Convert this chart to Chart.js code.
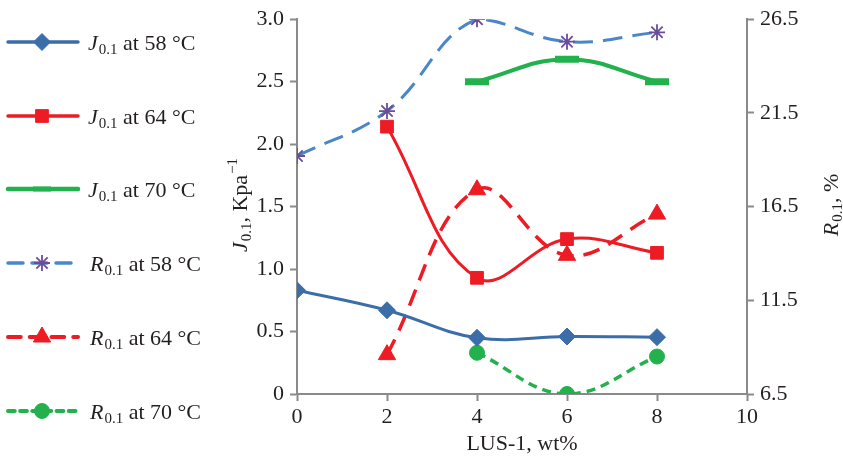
<!DOCTYPE html>
<html>
<head>
<meta charset="utf-8">
<script src="https://cdn.jsdelivr.net/npm/chart.js@4.4.0/dist/chart.umd.min.js"></script>
<style>
  html, body { margin: 0; padding: 0; background: #fff; }
</style>
</head>
<body>
<canvas id="lusChart" width="843" height="462"></canvas>
<script>
// LUS-1 content, wt%
const lusContent = [0, 2, 4, 6, 8];

// J0.1, Kpa^-1 (left axis)
const j58 = [0.83, 0.67, 0.45, 0.46, 0.455];
const j64 = [null, 2.14, 0.93, 1.24, 1.13];
const j70 = [null, null, 2.5, 2.68, 2.5];

// R0.1, % (right axis)
const r58 = [19.2, 21.6, 26.5, 25.3, 25.8];
const r64 = [null, 8.6, 17.4, 13.9, 16.1];
const r70 = [null, null, 8.7, 6.5, 8.5];

const xTicks = [0, 2, 4, 6, 8, 10];
const leftTicks = [0, 0.5, 1.0, 1.5, 2.0, 2.5, 3.0];
const rightTicks = [6.5, 11.5, 16.5, 21.5, 26.5];

const FONT = "'Liberation Serif', 'DejaVu Serif', serif";
const FS = 22;
const TEXT = '#231f20';
const AXIS = '#8a8a8a';

function toPoints(values) {
    const pts = [];
    values.forEach((v, i) => {
        if (v !== null) pts.push({ x: lusContent[i], y: v });
    });
    return pts;
}

const series = [
    { label: ['J', '0.1', ' at 58 °C'], data: j58, axis: 'yL', color: '#3b6ea9', width: 3, dash: [],
      point: 'rectRot', radius: 8.5, pointColor: '#3b6ea9', pbw: 1 },
    { label: ['J', '0.1', ' at 64 °C'], data: j64, axis: 'yL', color: '#ed1c24', width: 3, dash: [],
      point: 'rect', radius: 9, pointColor: '#ed1c24', pbw: 1 },
    { label: ['J', '0.1', ' at 70 °C'], data: j70, axis: 'yL', color: '#22b14c', width: 4, dash: [],
      point: 'line', radius: 12, pointColor: '#22b14c', pbw: 7 },
    { label: ['R', '0.1', ' at 58 °C'], data: r58, axis: 'yR', color: '#4a86c8', width: 3, dash: [20, 10],
      point: 'star', radius: 8, pointColor: '#6a4c9c', pbw: 1.8 },
    { label: ['R', '0.1', ' at 64 °C'], data: r64, axis: 'yR', color: '#ed1c24', width: 3.5, dash: [17, 10],
      point: 'triangle', radius: 10, pointColor: '#ed1c24', pbw: 1 },
    { label: ['R', '0.1', ' at 70 °C'], data: r70, axis: 'yR', color: '#22b14c', width: 3.5, dash: [9, 6],
      point: 'circle', radius: 7.5, pointColor: '#22b14c', pbw: 1 }
];

// draws "J0.1 at 58 °C" style text: italic letter, subscript, rest
function drawRich(ctx, x, y, letter, sub, rest, size, sup) {
    ctx.textBaseline = 'alphabetic';
    ctx.textAlign = 'left';
    ctx.font = 'italic ' + size + 'px ' + FONT;
    ctx.fillText(letter, x, y);
    x += ctx.measureText(letter).width + 1;
    ctx.font = Math.round(size * 0.7) + 'px ' + FONT;
    ctx.fillText(sub, x, y + size * 0.2);
    x += ctx.measureText(sub).width;
    ctx.font = size + 'px ' + FONT;
    ctx.fillText(rest, x, y);
    x += ctx.measureText(rest).width;
    if (sup) {
        ctx.font = Math.round(size * 0.7) + 'px ' + FONT;
        ctx.fillText(sup, x + 1, y - size * 0.45);
        x += ctx.measureText(sup).width + 1;
    }
    return x;
}

function richWidth(ctx, letter, sub, rest, size, sup) {
    ctx.font = 'italic ' + size + 'px ' + FONT;
    let w = ctx.measureText(letter).width + 1;
    ctx.font = Math.round(size * 0.7) + 'px ' + FONT;
    w += ctx.measureText(sub).width;
    if (sup) w += ctx.measureText(sup).width + 1;
    ctx.font = size + 'px ' + FONT;
    w += ctx.measureText(rest).width;
    return w;
}

const legendAndTitles = {
    id: 'legendAndTitles',
    afterDraw(chart) {
        const ctx = chart.ctx;
        const area = chart.chartArea;
        ctx.save();
        ctx.fillStyle = TEXT;

        // legend on the left
        const rowY = [42, 116, 189, 263, 337, 411];
        series.forEach((s, i) => {
            const y = rowY[i];
            ctx.save();
            ctx.strokeStyle = s.color;
            ctx.lineWidth = s.width + 0.5;
            ctx.setLineDash(s.dash.length ? [s.dash[0] * 0.75, s.dash[1] * 0.9] : []);
            ctx.lineCap = 'round';
            ctx.beginPath();
            ctx.moveTo(8, y);
            ctx.lineTo(78, y);
            ctx.stroke();
            ctx.restore();
            ctx.save();
            ctx.fillStyle = s.pointColor;
            ctx.strokeStyle = s.pointColor;
            const isLine = s.point === 'line';
            const bw = isLine ? 5 : s.pbw;
            ctx.lineWidth = bw;
            const r = isLine ? 9 : s.radius;
            Chart.helpers.drawPoint(ctx, { pointStyle: s.point, radius: r, borderWidth: bw, rotation: 0 }, 42, y);
            ctx.restore();
            ctx.fillStyle = TEXT;
            drawRich(ctx, i < 3 ? 88 : 90, y + 8, s.label[0], s.label[1], s.label[2], FS);
        });

        // left axis title
        ctx.save();
        ctx.translate(247, 205);
        ctx.rotate(-Math.PI / 2);
        let w = richWidth(ctx, 'J', '0.1', ', Kpa', FS, '−1');
        drawRich(ctx, -w / 2, 0, 'J', '0.1', ', Kpa', FS, '−1');
        ctx.restore();

        // right axis title
        ctx.save();
        ctx.translate(838, 205);
        ctx.rotate(-Math.PI / 2);
        w = richWidth(ctx, 'R', '0.1', ', %', FS);
        drawRich(ctx, -w / 2, 0, 'R', '0.1', ', %', FS);
        ctx.restore();

        // x axis title
        ctx.font = FS + 'px ' + FONT;
        ctx.textAlign = 'center';
        ctx.textBaseline = 'middle';
        ctx.fillText('LUS-1, wt%', (area.left + area.right) / 2, 444);
        ctx.restore();
    }
};

function fixedTicks(list) {
    return function(scale) {
        scale.ticks = list.map(v => ({ value: v }));
    };
}

const gridOpts = {
    display: true,
    drawOnChartArea: false,
    drawTicks: true,
    tickLength: 7,
    tickWidth: 2,
    tickColor: AXIS,
    color: AXIS
};

const ctx = document.getElementById('lusChart').getContext('2d');

new Chart(ctx, {
    type: 'line',
    data: {
        datasets: series.map(s => ({
            label: s.label.join(''),
            data: toPoints(s.data),
            yAxisID: s.axis,
            borderColor: s.color,
            backgroundColor: s.pointColor,
            borderWidth: s.width,
            borderDash: s.dash,
            tension: 0.4,
            fill: false,
            pointStyle: s.point,
            pointRadius: s.radius,
            pointHoverRadius: s.radius,
            pointBackgroundColor: s.pointColor,
            pointBorderColor: s.pointColor,
            pointBorderWidth: s.pbw
        }))
    },
    options: {
        responsive: false,
        devicePixelRatio: 1,
        animation: false,
        layout: { padding: { left: 225, right: 0, top: 15, bottom: 0 } },
        plugins: {
            legend: { display: false },
            tooltip: { enabled: false }
        },
        scales: {
            x: {
                type: 'linear',
                min: 0,
                max: 10,
                afterBuildTicks: fixedTicks(xTicks),
                afterFit: s => { s.height = 68; },
                ticks: { font: { family: FONT, size: FS }, color: TEXT, padding: 3 },
                grid: gridOpts,
                border: { color: AXIS, width: 2 }
            },
            yL: {
                type: 'linear',
                position: 'left',
                min: 0,
                max: 3,
                afterBuildTicks: fixedTicks(leftTicks),
                afterFit: s => { s.width = 72; },
                ticks: {
                    font: { family: FONT, size: FS },
                    color: TEXT,
                    padding: 6,
                    callback: v => v === 0 ? '0' : v.toFixed(1)
                },
                grid: gridOpts,
                border: { color: AXIS, width: 2 }
            },
            yR: {
                type: 'linear',
                position: 'right',
                min: 6.5,
                max: 26.5,
                afterBuildTicks: fixedTicks(rightTicks),
                afterFit: s => { s.width = 96; },
                ticks: {
                    font: { family: FONT, size: FS },
                    color: TEXT,
                    padding: 6,
                    callback: v => v.toFixed(1)
                },
                grid: gridOpts,
                border: { color: AXIS, width: 2 }
            }
        }
    },
    plugins: [legendAndTitles]
});
</script>
</body>
</html>
